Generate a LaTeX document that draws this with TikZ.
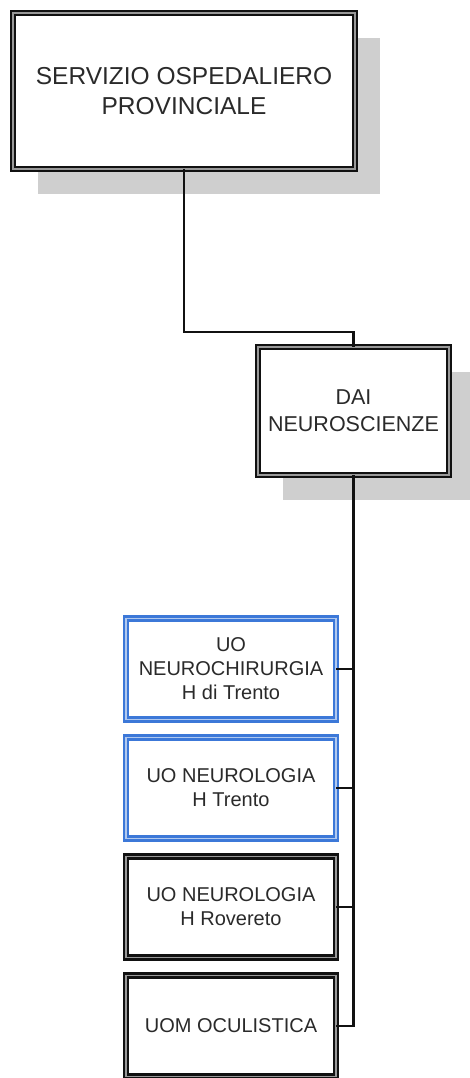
\documentclass[tikz,border=0pt]{standalone}
\usepackage{fontspec}
\setmainfont{Liberation Sans}
\usetikzlibrary{positioning, shadows}
\definecolor{cshadow}{HTML}{CFCFCF}
\definecolor{cblue}{HTML}{3C78D8}
\definecolor{cline}{HTML}{111111}
\definecolor{ctext}{HTML}{2A2A2A}

\begin{document}
\begin{tikzpicture}[
  x=1pt, y=-1pt,
  frame/.style={draw=cline, double=black!40, line width=2.2pt, double distance=1.8pt,
                fill=white, align=center, outer sep=0pt, inner sep=0pt, text=ctext},
  box/.style={frame,
              drop shadow={shadow xshift=25pt, shadow yshift=-25pt, fill=cshadow, opacity=1}},
  unitbox/.style={frame, minimum width=210pt, minimum height=101pt,
                  font=\fontsize{20}{24}\selectfont},
  bluebox/.style={unitbox, draw=cblue, double=cblue!40},
  conn/.style={draw=cline, line width=2.6pt},
  ]
\useasboundingbox (0,0) rectangle (470,1078);

\node[box, minimum width=342pt, minimum height=156pt, font=\fontsize{24.5}{30}\selectfont]
  (spp) at (184,91) {SERVIZIO OSPEDALIERO\\PROVINCIALE};
\node[box, minimum width=191pt, minimum height=128pt, font=\fontsize{21.5}{27}\selectfont]
  (dai) at (353.5,411) {DAI\\NEUROSCIENZE};

\node[bluebox] (neurochir) at (231,669) {UO\\NEUROCHIRURGIA\\H di Trento};
\node[bluebox, below=18pt of neurochir] (neurotn) {UO NEUROLOGIA\\H Trento};
\node[unitbox, below=18pt of neurotn] (neurorov) {UO NEUROLOGIA\\H Rovereto};
\node[unitbox, below=18pt of neurorov] (oculist) {UOM OCULISTICA};

% connectors
\coordinate (bend) at (0,332);
\draw[conn] (spp.south) |- (bend -| dai.north) -- (dai.north);
\draw[conn] (dai.south) |- (oculist.east);
\foreach \u in {neurochir, neurotn, neurorov}
  \draw[conn] (\u.east) -- (\u.east -| dai.south);
\end{tikzpicture}
\end{document}
